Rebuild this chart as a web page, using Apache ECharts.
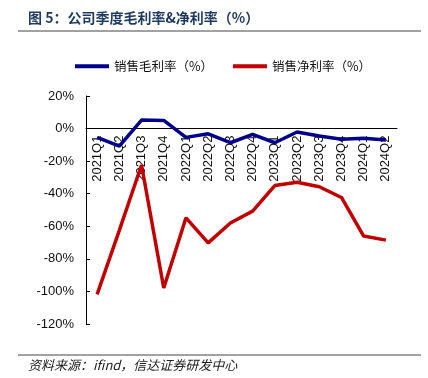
<!DOCTYPE html>
<html>
<head>
<meta charset="utf-8">
<script src="https://cdn.jsdelivr.net/npm/echarts@6/dist/echarts.min.js"></script>
<style>
  html, body { margin: 0; padding: 0; background: #fff; }
  #main { width: 428px; height: 378px; }
</style>
</head>
<body>
<div id="main"></div>
<script>
// 季度
const quarters = ['2021Q1', '2021Q2', '2021Q3', '2021Q4', '2022Q1', '2022Q2', '2022Q3',
  '2022Q4', '2023Q1', '2023Q2', '2023Q3', '2023Q4', '2024Q1', '2024Q2']
// 销售毛利率（%）
const grossMargin = [-5.4, -10.8, 5.2, 5.0, -5.4, -3.2, -8.7, -3.5, -8.7, -2.1, -4.6, -6.6, -6.0, -7.0]
// 销售净利率（%）
const netMargin = [-101.8, -62.5, -22.4, -97.9, -54.8, -70.2, -58.0, -50.7, -35.0, -33.0, -35.7, -42.3, -66.0, -68.5]

const myChart = echarts.init(document.getElementById('main'))
const axisFont = { fontFamily: 'Liberation Sans, Arial, sans-serif', fontSize: 13, color: '#111' }

// x轴放在0%处
const gridTop = 96
const gridBottom = 54
const plotH = 378 - gridTop - gridBottom
const zeroOffset = -plotH * 120 / 140

const option = {
  animation: false,
  backgroundColor: '#fff',
  graphic: [
    {
      type: 'text', left: 28, top: 11,
      style: { text: '图 5：公司季度毛利率&净利率（%）', fontFamily: 'Noto Sans CJK SC', fontSize: 14, fontWeight: 'bold', fill: '#1f3a5f' }
    },
    { type: 'line', shape: { x1: 18, y1: 31, x2: 421, y2: 31 }, style: { stroke: '#444', lineWidth: 1 } },
    { type: 'line', shape: { x1: 18, y1: 355, x2: 421, y2: 355 }, style: { stroke: '#444', lineWidth: 1 } },
    {
      type: 'text', left: 28, top: 359,
      style: { text: '资料来源：ifind，信达证券研发中心', fontFamily: 'Noto Sans CJK SC', fontSize: 13, fontStyle: 'italic', fill: '#222' }
    }
  ],
  legend: {
    top: 60,
    left: 75,
    padding: 0,
    itemGap: 20,
    itemWidth: 34,
    itemHeight: 4,
    icon: 'rect',
    textStyle: { fontFamily: 'Noto Sans CJK SC', fontSize: 12.5, color: '#111' },
    data: ['销售毛利率（%）', '销售净利率（%）']
  },
  grid: { left: 86, right: 31, top: gridTop, bottom: gridBottom },
  xAxis: {
    type: 'category',
    data: quarters,
    offset: zeroOffset,
    axisLine: { onZero: false, lineStyle: { color: '#000', width: 1 } },
    axisTick: { inside: true, length: 5, lineStyle: { color: '#000' } },
    axisLabel: Object.assign({ rotate: 90, margin: 7, interval: 0 }, axisFont)
  },
  yAxis: {
    type: 'value',
    min: -120,
    max: 20,
    interval: 20,
    splitLine: { show: false },
    axisLine: { show: true, lineStyle: { color: '#000', width: 1 } },
    axisTick: { show: true, inside: true, length: 4, lineStyle: { color: '#000' } },
    axisLabel: Object.assign({ margin: 12, formatter: '{value}%' }, axisFont)
  },
  series: [
    {
      name: '销售毛利率（%）',
      type: 'line',
      data: grossMargin,
      showSymbol: false,
      symbol: 'none',
      lineStyle: { color: '#00008b', width: 3.5 },
      itemStyle: { color: '#00008b' }
    },
    {
      name: '销售净利率（%）',
      type: 'line',
      data: netMargin,
      showSymbol: false,
      symbol: 'none',
      lineStyle: { color: '#c00000', width: 3.5 },
      itemStyle: { color: '#c00000' }
    }
  ]
}
myChart.setOption(option)
</script>
</body>
</html>
